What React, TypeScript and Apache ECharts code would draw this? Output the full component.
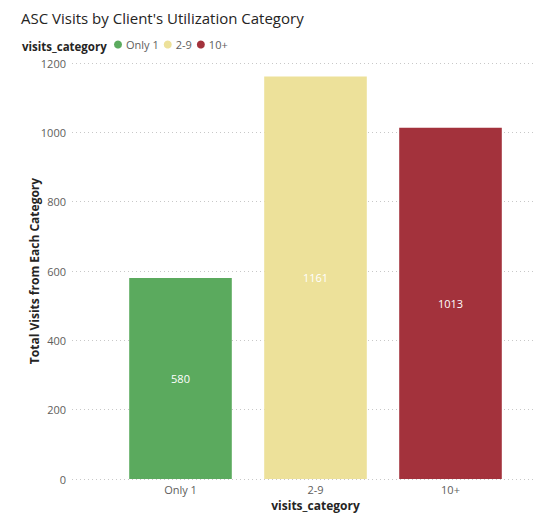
import React, { useEffect, useRef } from "react";
import * as echarts from "echarts";

const categories = ["Only 1", "2-9", "10+"];
const visits = [580, 1161, 1013];
const colors = ["#5BAA5E", "#EDE19A", "#A3323C"];
const yTicks = { min: 0, max: 1200, interval: 200 };

const FONT = "'Open Sans', 'Noto Sans', sans-serif";

export default function App() {
  const ref = useRef<HTMLDivElement>(null);
  useEffect(() => {
    if (!ref.current) return;
    const chart = echarts.init(ref.current, null, { renderer: "svg" });
    const series = categories.map((c, i) => ({
      name: c,
      type: "bar",
      xAxisIndex: 1,
      yAxisIndex: 1,
      stack: "all",
      barCategoryGap: "24%",
      itemStyle: { color: colors[i] },
      label: {
        show: true,
        position: "inside",
        color: "#ffffff",
        fontFamily: FONT,
        fontSize: 11,
      },
      data: categories.map((_, j) => (j === i ? visits[i] : "-")),
    }));
    chart.setOption({
      animation: false,
      textStyle: { fontFamily: FONT },
      title: {
        text: "ASC Visits by Client's Utilization Category",
        left: 16,
        top: 5,
        textStyle: { fontFamily: FONT, fontSize: 15, fontWeight: "normal", color: "#252423" },
      },
      graphic: [
        {
          type: "text",
          x: 22,
          y: 46,
          style: {
            text: "visits_category",
            fontFamily: FONT,
            fontSize: 11.5,
            fontWeight: "bold",
            fill: "#252423",
            verticalAlign: "middle",
          },
        },
      ],
      legend: {
        left: 114,
        top: 39,
        padding: 0,
        itemWidth: 8,
        itemHeight: 8,
        itemGap: 5,
        icon: "circle",
        data: categories,
        textStyle: { fontFamily: FONT, fontSize: 11, color: "#605E5C", padding: [0, 0, 0, -1] },
      },
      grid: [
        { left: 72, right: 0, top: 63, bottom: 36, outerBoundsMode: "none", containLabel: false },
        { left: 113, right: 16, top: 63, bottom: 36, outerBoundsMode: "none", containLabel: false },
      ],
      xAxis: [
        { type: "category", gridIndex: 0, data: categories, show: false },
        {
          type: "category",
          gridIndex: 1,
          data: categories,
          axisLine: { show: false },
          axisTick: { show: false },
          axisLabel: { color: "#605E5C", fontSize: 11, fontFamily: FONT, margin: 5 },
          name: "visits_category",
          nameLocation: "middle",
          nameGap: 20,
          nameMoveOverlap: false,
          nameTextStyle: { fontFamily: FONT, fontSize: 12, fontWeight: "bold", color: "#252423" },
        },
      ],
      yAxis: [
        {
          type: "value",
          gridIndex: 0,
          min: yTicks.min,
          max: yTicks.max,
          interval: yTicks.interval,
          axisLine: { show: false },
          axisTick: { show: false },
          axisLabel: {
            color: "#605E5C",
            fontSize: 11,
            fontFamily: FONT,
            margin: 6,
            formatter: (v: number) => String(v),
          },
          splitLine: { lineStyle: { type: [1, 3], color: "#C8C8C8", width: 1 } },
          name: "Total Visits from Each Category",
          nameLocation: "middle",
          nameGap: 32,
          nameMoveOverlap: false,
          nameTextStyle: { fontFamily: FONT, fontSize: 12, fontWeight: "bold", color: "#252423" },
        },
        {
          type: "value",
          gridIndex: 1,
          min: yTicks.min,
          max: yTicks.max,
          interval: yTicks.interval,
          show: false,
          splitLine: { show: false },
        },
      ],
      series,
    });
    return () => chart.dispose();
  }, []);
  return (
    <div
      ref={ref}
      style={{ position: "absolute", left: 0, top: 0, width: 534, height: 515, background: "#fff" }}
    />
  );
}
